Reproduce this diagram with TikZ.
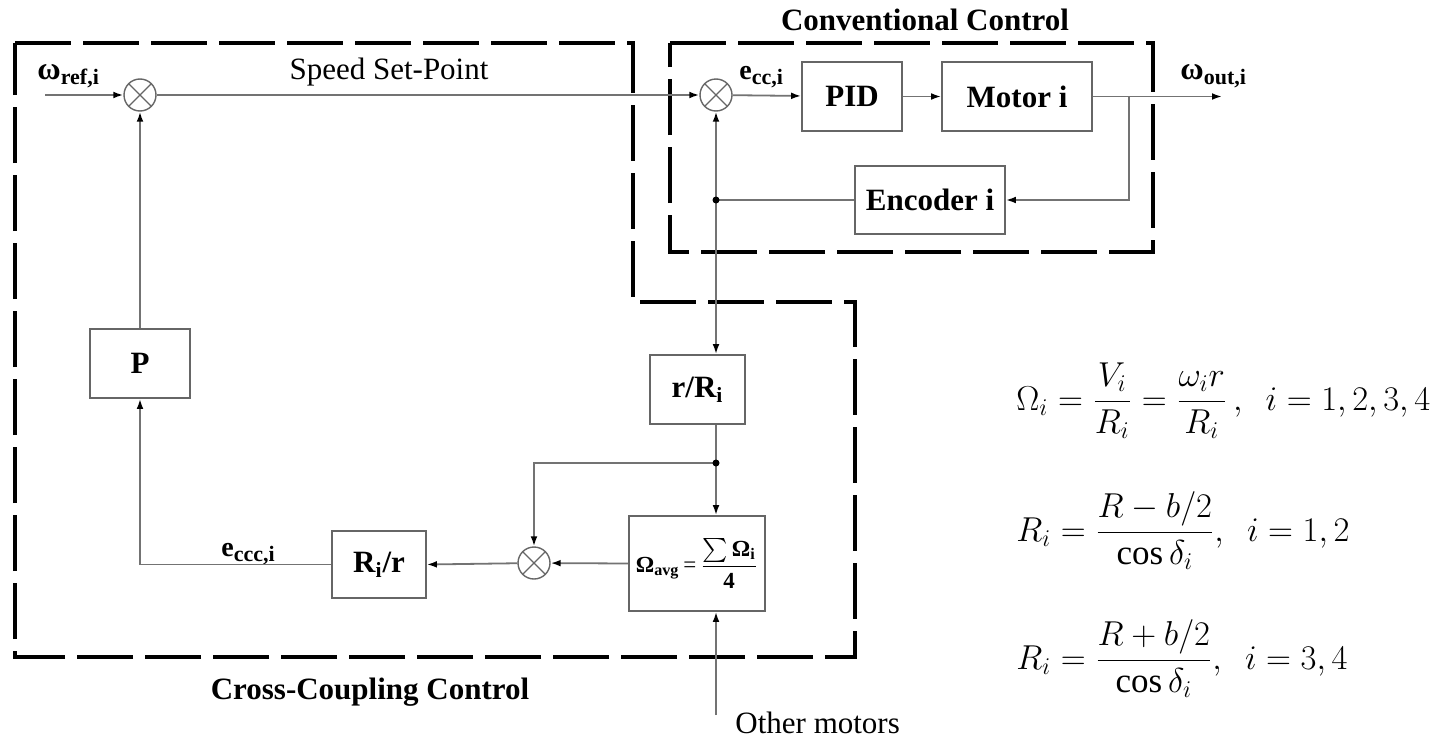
\documentclass[tikz,border=0pt]{standalone}
\usepackage{fontspec}
\setmainfont{Liberation Serif}
\usepackage{amsmath}
\usetikzlibrary{arrows.meta}
\begin{document}
\begin{tikzpicture}[x=0.5pt,y=-0.5pt,
  wire/.style={draw=black!55,line width=0.9pt},
  arr/.style={wire,-{Latex[length=5pt,width=3.4pt,black]}},
  blk/.style={draw=black!60,line width=0.9pt,inner sep=0pt,font=\fontsize{15.5}{17}\selectfont\bfseries},
  sumj/.style={circle,draw=black!60,line width=0.7pt,minimum size=16pt,inner sep=0pt,
    path picture={\draw[black!60,line width=0.6pt] (path picture bounding box.north west)--(path picture bounding box.south east)
      (path picture bounding box.north east)--(path picture bounding box.south west);}},
  region/.style={draw=black,line width=2pt,dash pattern=on 28pt off 6pt},
  lbl/.style={inner sep=0pt,font=\fontsize{15.5}{17}\selectfont\bfseries},
  txt/.style={inner sep=0pt,font=\fontsize{15.5}{17}\selectfont},
  eqn/.style={anchor=base west,inner sep=0pt,font=\fontsize{17.5}{20}\selectfont},
  dot/.style={circle,fill=black,inner sep=0pt,minimum size=3.5pt}]
\useasboundingbox[fill=white] (0,0) rectangle (1433,739);

% regions
\draw[region] (15,43) -- (633,43) -- (633,302) -- (855,302) -- (855,657) -- (15,657) -- cycle;
\draw[region] (670,43) -- (1153,43) -- (1153,252) -- (670,252) -- cycle;
\node[lbl] (tconv) at (925,20) {Conventional Control};
\node[lbl] (tcross) at (370,692) {Cross-Coupling Control};

% blocks
\node[blk,minimum width=50pt,minimum height=34.5pt] (pid) at (852,96.5) {PID};
\node[blk,minimum width=75pt,minimum height=34.5pt] (motor) at (1017,96.5) {Motor i};
\node[blk,minimum width=75pt,minimum height=34pt] (enc) at (930,200) {Encoder i};
\node[blk,minimum width=47.5pt,minimum height=34.5pt] (rR) at (697.5,389.5) {r/R\textsubscript{i}};
\node[blk,minimum width=68pt,minimum height=47.5pt,font=\fontsize{11.5}{13}\selectfont\bfseries] (avg) at (697,563.5) {\textbf{Ω\textsubscript{avg}}\,{\normalfont=}\,$\dfrac{\sum\textbf{Ω}_{\textbf{i}}}{\textbf{4}}$};
\node[blk,minimum width=47pt,minimum height=33.5pt] (Rr) at (379,564.5) {R\textsubscript{i}/r};
\node[blk,minimum width=50pt,minimum height=34.5pt] (P) at (140,363.5) {P};

% summing junctions
\node[sumj] (s1) at (140,95) {};
\node[sumj] (s2) at (716,95) {};
\node[sumj] (s3) at (534,563) {};

% labels
\node[lbl,anchor=base west] (lin) at (37,79) {\fontsize{16}{16}\selectfont ω\textsubscript{\fontsize{11}{11}\selectfont ref,i}};
\node[txt] (lsp) at (389,72) {Speed Set-Point};
\node[lbl,anchor=base west] (lecc) at (739,79) {\fontsize{14}{14}\selectfont e\textsubscript{\fontsize{11}{11}\selectfont cc,i}};
\node[lbl,anchor=base west] (lout) at (1180,79) {\fontsize{16}{16}\selectfont ω\textsubscript{\fontsize{11}{11}\selectfont out,i}};
\node[lbl,anchor=base west] (leccc) at (221,556) {\fontsize{14}{14}\selectfont e\textsubscript{\fontsize{11}{11}\selectfont ccc,i}};
\node[txt,anchor=base west] (lother) at (735,733) {Other motors};

% coordinates
\coordinate (in) at (45,95);
\coordinate (out) at (1222,96.5);
\coordinate (br) at (1129,96.5);
\coordinate (j1) at (716,200);
\coordinate (j2) at (716,463);
\coordinate (om) at (716,715);

% connectors
\draw[arr] (in) -- (s1);
\draw[arr] (s1) -- (s2);
\draw[arr] (s2) -- (pid);
\draw[arr] (pid) -- (motor);
\draw[arr] (motor.east) -- (out);
\draw[arr] (br) |- (enc.east);
\draw[wire] (enc.west) -- (j1);
\draw[arr] (j1) -- (s2);
\draw[arr] (j1) -- (j1 |- rR.north);
\draw[wire] (j2 |- rR.south) -- (j2);
\draw[arr] (j2) -- (j2 |- avg.north);
\draw[arr] (j2) -| (s3);
\draw[arr] (avg.west) -- (s3);
\draw[arr] (s3) -- (Rr.east);
\draw[arr] (Rr.west) -| (P.south);
\draw[arr] (P.north) -- (s1);
\draw[arr] (om) -- (om |- avg.south);
\node[dot] at (j1) {};
\node[dot] at (j2) {};

% equations
\node[eqn] (eq1) at (1016,410) {$\Omega_i=\dfrac{V_i}{R_i}=\dfrac{\omega_i r}{R_i}\,,\ \ i=1,2,3,4$};
\node[eqn] (eq2) at (1016,541) {$R_i=\dfrac{R-b/2}{\cos\delta_i},\ \ i=1,2$};
\node[eqn] (eq3) at (1016,669) {$R_i=\dfrac{R+b/2}{\cos\delta_i},\ \ i=3,4$};
\end{tikzpicture}
\end{document}
